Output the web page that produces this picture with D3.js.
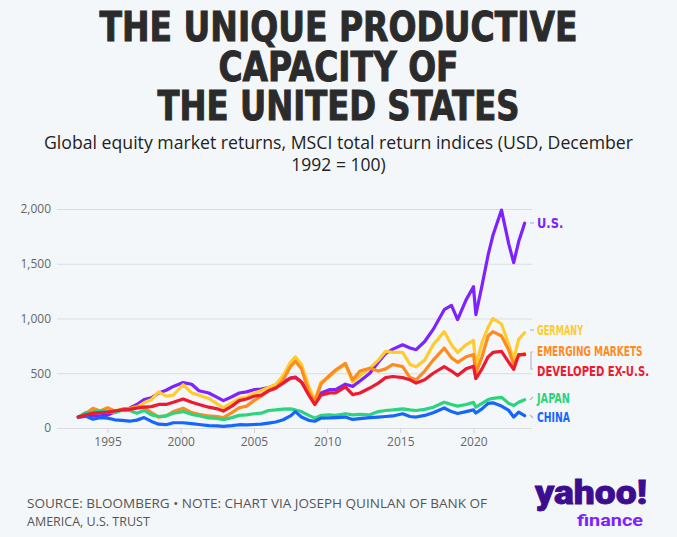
<!DOCTYPE html>
<html>
<head>
<meta charset="utf-8">
<script src="https://cdn.jsdelivr.net/npm/d3@7"></script>
<style>
  html, body { margin: 0; padding: 0; background: #f4f7fa; }
  svg { display: block; }
</style>
</head>
<body>
<div id="graph"></div>
<script>
// Dates (month of each point)
var dates = ["1993-01","1993-07","1994-01","1994-07","1995-01","1995-07","1996-01","1996-07",
  "1997-01","1997-07","1998-01","1998-07","1999-01","1999-07","2000-03","2000-10",
  "2001-04","2001-12","2002-07","2002-12","2003-07","2004-01","2004-07","2005-01",
  "2005-07","2006-01","2006-07","2007-01","2007-07","2007-11","2008-04","2008-10",
  "2009-03","2009-08","2010-03","2010-08","2011-04","2011-10","2012-04","2012-12",
  "2013-07","2014-01","2014-07","2015-03","2015-09","2016-02","2016-09","2017-04",
  "2018-01","2018-07","2018-12","2019-07","2020-01","2020-03","2020-08","2021-01",
  "2021-05","2021-12","2022-06","2022-10","2023-02","2023-07"];

// MSCI total return indices, Dec 1992 = 100
var us = [100,105,112,110,118,145,170,180,215,260,275,320,345,380,415,400,
  340,320,280,250,285,320,330,350,355,370,385,420,455,465,420,330,
  228,320,350,350,400,380,430,500,600,680,720,760,730,715,790,900,
  1080,1120,990,1170,1290,1035,1300,1580,1760,1990,1680,1510,1700,1870];
var germany = [100,120,150,145,150,160,165,170,190,230,260,330,290,300,395,320,
  300,270,220,185,230,270,280,320,340,370,400,480,600,650,580,380,
  255,420,470,520,580,420,480,545,620,700,690,690,580,560,620,760,
  880,760,690,760,800,565,780,920,1000,950,760,625,810,870];
var emerging = [100,130,180,155,185,155,170,180,195,190,140,100,110,150,180,140,
  125,110,105,95,140,185,200,250,290,340,360,440,560,610,540,330,
  243,400,480,530,590,440,520,545,520,540,580,560,460,440,520,620,
  730,640,600,650,670,500,650,840,880,840,710,580,660,680];
var developed = [100,120,135,140,145,155,165,170,180,190,195,215,215,235,265,235,
  215,190,175,155,200,250,265,290,300,340,365,410,455,460,420,300,
  213,300,320,320,375,305,320,365,410,460,470,460,440,410,440,500,
  560,520,480,540,565,450,540,650,690,700,600,535,670,670];
var japan = [100,140,145,160,150,140,165,160,135,160,120,105,110,135,150,125,
  112,92,88,76,95,115,120,130,135,160,165,172,175,165,150,115,
  90,115,120,115,130,120,125,120,150,160,165,175,165,160,170,190,
  235,215,200,215,235,190,225,260,270,280,225,205,235,258];
var china = [100,110,80,95,90,75,70,62,72,95,60,35,30,48,48,40,
  32,22,20,15,22,30,28,32,35,45,55,75,110,150,100,70,
  62,90,92,95,100,78,85,95,100,105,110,130,105,100,115,140,
  183,150,132,150,165,137,175,225,230,200,160,100,145,112];

var seriesNames = ["U.S.", "GERMANY", "EMERGING MARKETS", "DEVELOPED EX-U.S.", "JAPAN", "CHINA"];
var yTicks = [0, 500, 1000, 1500, 2000];
var xTickYears = [1995, 2000, 2005, 2010, 2015, 2020];

var largeur = 677, hauteur = 537;
var parseMois = d3.timeParse("%Y-%m");

var couleurs = {
  "U.S.": "#7e22ff",
  "GERMANY": "#ffcb2f",
  "EMERGING MARKETS": "#ff8a1e",
  "DEVELOPED EX-U.S.": "#ee1a30",
  "JAPAN": "#2bd47d",
  "CHINA": "#1466ff"
};
var valeurs = {
  "U.S.": us, "GERMANY": germany, "EMERGING MARKETS": emerging,
  "DEVELOPED EX-U.S.": developed, "JAPAN": japan, "CHINA": china
};
// vertical centre of each end label
var labelY = {
  "U.S.": 223, "GERMANY": 330, "EMERGING MARKETS": 351,
  "DEVELOPED EX-U.S.": 371, "JAPAN": 398, "CHINA": 417
};

var series = seriesNames.map(function(nom) {
  return {
    nom: nom,
    points: dates.map(function(d, i) { return { date: parseMois(d), v: valeurs[nom][i] }; })
  };
});

var svg = d3.select("#graph").append("svg")
    .attr("width", largeur)
    .attr("height", hauteur);

svg.append("rect").attr("width", largeur).attr("height", hauteur).attr("fill", "#f4f7fa");

// Titre
var titre = ["THE UNIQUE PRODUCTIVE", "CAPACITY OF", "THE UNITED STATES"];
var titreLargeurs = [478, 240, 362];
svg.selectAll(".titre")
  .data(titre)
  .enter()
  .append("text")
  .attr("class", "titre")
  .attr("x", largeur / 2)
  .attr("y", function(d, i) { return 41 + i * 39.5; })
  .attr("text-anchor", "middle")
  .attr("textLength", function(d, i) { return titreLargeurs[i]; })
  .attr("lengthAdjust", "spacingAndGlyphs")
  .style("font-family", "'Liberation Sans Narrow', 'DejaVu Sans Condensed', Roboto, sans-serif")
  .style("font-weight", "bold")
  .style("font-size", "40px")
  .attr("fill", "#2b2b2b")
  .attr("stroke", "#2b2b2b")
  .attr("stroke-width", 0.9)
  .text(function(d) { return d; });

// Sous-titre
var sousTitre = ["Global equity market returns, MSCI total return indices (USD, December", "1992 = 100)"];
svg.selectAll(".soustitre")
  .data(sousTitre)
  .enter()
  .append("text")
  .attr("x", largeur / 2)
  .attr("y", function(d, i) { return 149 + i * 21.5; })
  .attr("text-anchor", "middle")
  .style("font-family", "'Open Sans', 'Noto Sans', sans-serif")
  .style("font-size", "17.5px")
  .attr("fill", "#222")
  .text(function(d) { return d; })
  .each(function(d, i) {
    if (i === 0) d3.select(this).attr("textLength", 589).attr("lengthAdjust", "spacingAndGlyphs");
  });

// Echelles
var echelleX = d3.scaleTime()
    .domain([new Date(1991, 6, 20), new Date(2024, 0, 1)])
    .range([57, 532]);
var echelleY = d3.scaleLinear()
    .domain([0, 2000])
    .range([428, 209]);

// Axe Y (quadrillage)
var axeY = d3.axisLeft(echelleY)
    .tickValues(yTicks)
    .tickSize(-(532 - 57))
    .tickPadding(5)
    .tickFormat(d3.format(","));
var gY = svg.append("g")
    .attr("transform", "translate(57,0)")
    .call(axeY);
gY.select(".domain").remove();
gY.selectAll("line").attr("stroke", "#d9dde2").attr("stroke-width", 1);
gY.selectAll("text")
  .attr("fill", "#666")
  .style("font-family", "'Open Sans', 'Noto Sans', sans-serif")
  .style("font-size", "12px")
  .attr("dx", "-1");

// Axe X
var axeX = d3.axisBottom(echelleX)
    .tickValues(xTickYears.map(function(a) { return new Date(a, 0, 1); }))
    .tickSize(5)
    .tickPadding(4)
    .tickFormat(d3.timeFormat("%Y"));
var gX = svg.append("g")
    .attr("transform", "translate(0,428)")
    .call(axeX);
gX.select(".domain").remove();
gX.selectAll("line").attr("stroke", "#cfd4da");
gX.selectAll("text")
  .attr("fill", "#666")
  .style("font-family", "'Open Sans', 'Noto Sans', sans-serif")
  .style("font-size", "12px");

// Courbes
var ligne = d3.line()
    .x(function(d) { return echelleX(d.date); })
    .y(function(d) { return echelleY(d.v); })
    .curve(d3.curveLinear);

var ordre = ["U.S.", "GERMANY", "EMERGING MARKETS", "JAPAN", "CHINA", "DEVELOPED EX-U.S."];
svg.selectAll(".courbe")
  .data(ordre.map(function(n) { return series.find(function(s) { return s.nom === n; }); }))
  .enter()
  .append("path")
  .attr("class", "courbe")
  .attr("d", function(s) { return ligne(s.points); })
  .attr("fill", "none")
  .attr("stroke", function(s) { return couleurs[s.nom]; })
  .attr("stroke-width", 3.2)
  .attr("stroke-linejoin", "round")
  .attr("stroke-linecap", "round");

// Etiquettes de fin
var gris = "#b5b9bf";
["U.S.", "GERMANY"].forEach(function(n) {
  svg.append("line").attr("x1", 530).attr("x2", 534)
    .attr("y1", labelY[n]).attr("y2", labelY[n])
    .attr("stroke", gris).attr("stroke-width", 1.2);
});
// accolade EM / developed
svg.append("path")
  .attr("d", "M533,352 L531,352 L531,369 L533,369")
  .attr("fill", "none").attr("stroke", gris).attr("stroke-width", 1.2);
svg.append("line").attr("x1", 530).attr("x2", 533).attr("y1", 400).attr("y2", 397)
  .attr("stroke", gris).attr("stroke-width", 1.2);
svg.append("line").attr("x1", 530).attr("x2", 533).attr("y1", 415).attr("y2", 418)
  .attr("stroke", gris).attr("stroke-width", 1.2);

// étiquettes condensées par une mise à l'échelle horizontale
svg.selectAll(".etiquette")
  .data(seriesNames)
  .enter()
  .append("text")
  .attr("class", "etiquette")
  .attr("x", 0)
  .attr("y", 0)
  .attr("dy", "0.36em")
  .style("font-family", "'Liberation Sans Narrow', 'DejaVu Sans Condensed', Roboto, sans-serif")
  .style("font-weight", "bold")
  .style("font-size", "13.5px")
  .attr("fill", function(n) { return couleurs[n]; })
  .text(function(n) { return n; })
  .each(function(n) {
    var cible = n.length * 6.6;
    var k = Math.min(1, cible / this.getComputedTextLength());
    d3.select(this).attr("transform", "translate(537," + labelY[n] + ") scale(" + k + ",1)");
  });

// Source
var source = ["SOURCE: BLOOMBERG \u2022 NOTE: CHART VIA JOSEPH QUINLAN OF BANK OF", "AMERICA, U.S. TRUST"];
svg.selectAll(".source")
  .data(source)
  .enter()
  .append("text")
  .attr("x", 27)
  .attr("y", function(d, i) { return 508 + i * 18; })
  .style("font-family", "'Open Sans', 'Noto Sans', sans-serif")
  .style("font-size", "12.5px")
  .attr("fill", "#555")
  .text(function(d) { return d; })
  .each(function(d, i) {
    if (i === 0) d3.select(this).attr("textLength", 460).attr("lengthAdjust", "spacingAndGlyphs");
  });

// Logo
svg.append("text")
  .attr("x", 535).attr("y", 504)
  .attr("textLength", 112).attr("lengthAdjust", "spacingAndGlyphs")
  .style("font-family", "Roboto, 'Open Sans', sans-serif")
  .style("font-weight", "900")
  .style("font-size", "33px")
  .attr("fill", "#3c0d8f")
  .attr("stroke", "#3c0d8f")
  .attr("stroke-width", 0.8)
  .text("yahoo!");
svg.append("text")
  .attr("x", 577).attr("y", 526)
  .attr("textLength", 66).attr("lengthAdjust", "spacingAndGlyphs")
  .style("font-family", "Roboto, 'Open Sans', sans-serif")
  .style("font-weight", "bold")
  .style("font-size", "17px")
  .attr("fill", "#7e22ff")
  .text("finance");
</script>
</body>
</html>
